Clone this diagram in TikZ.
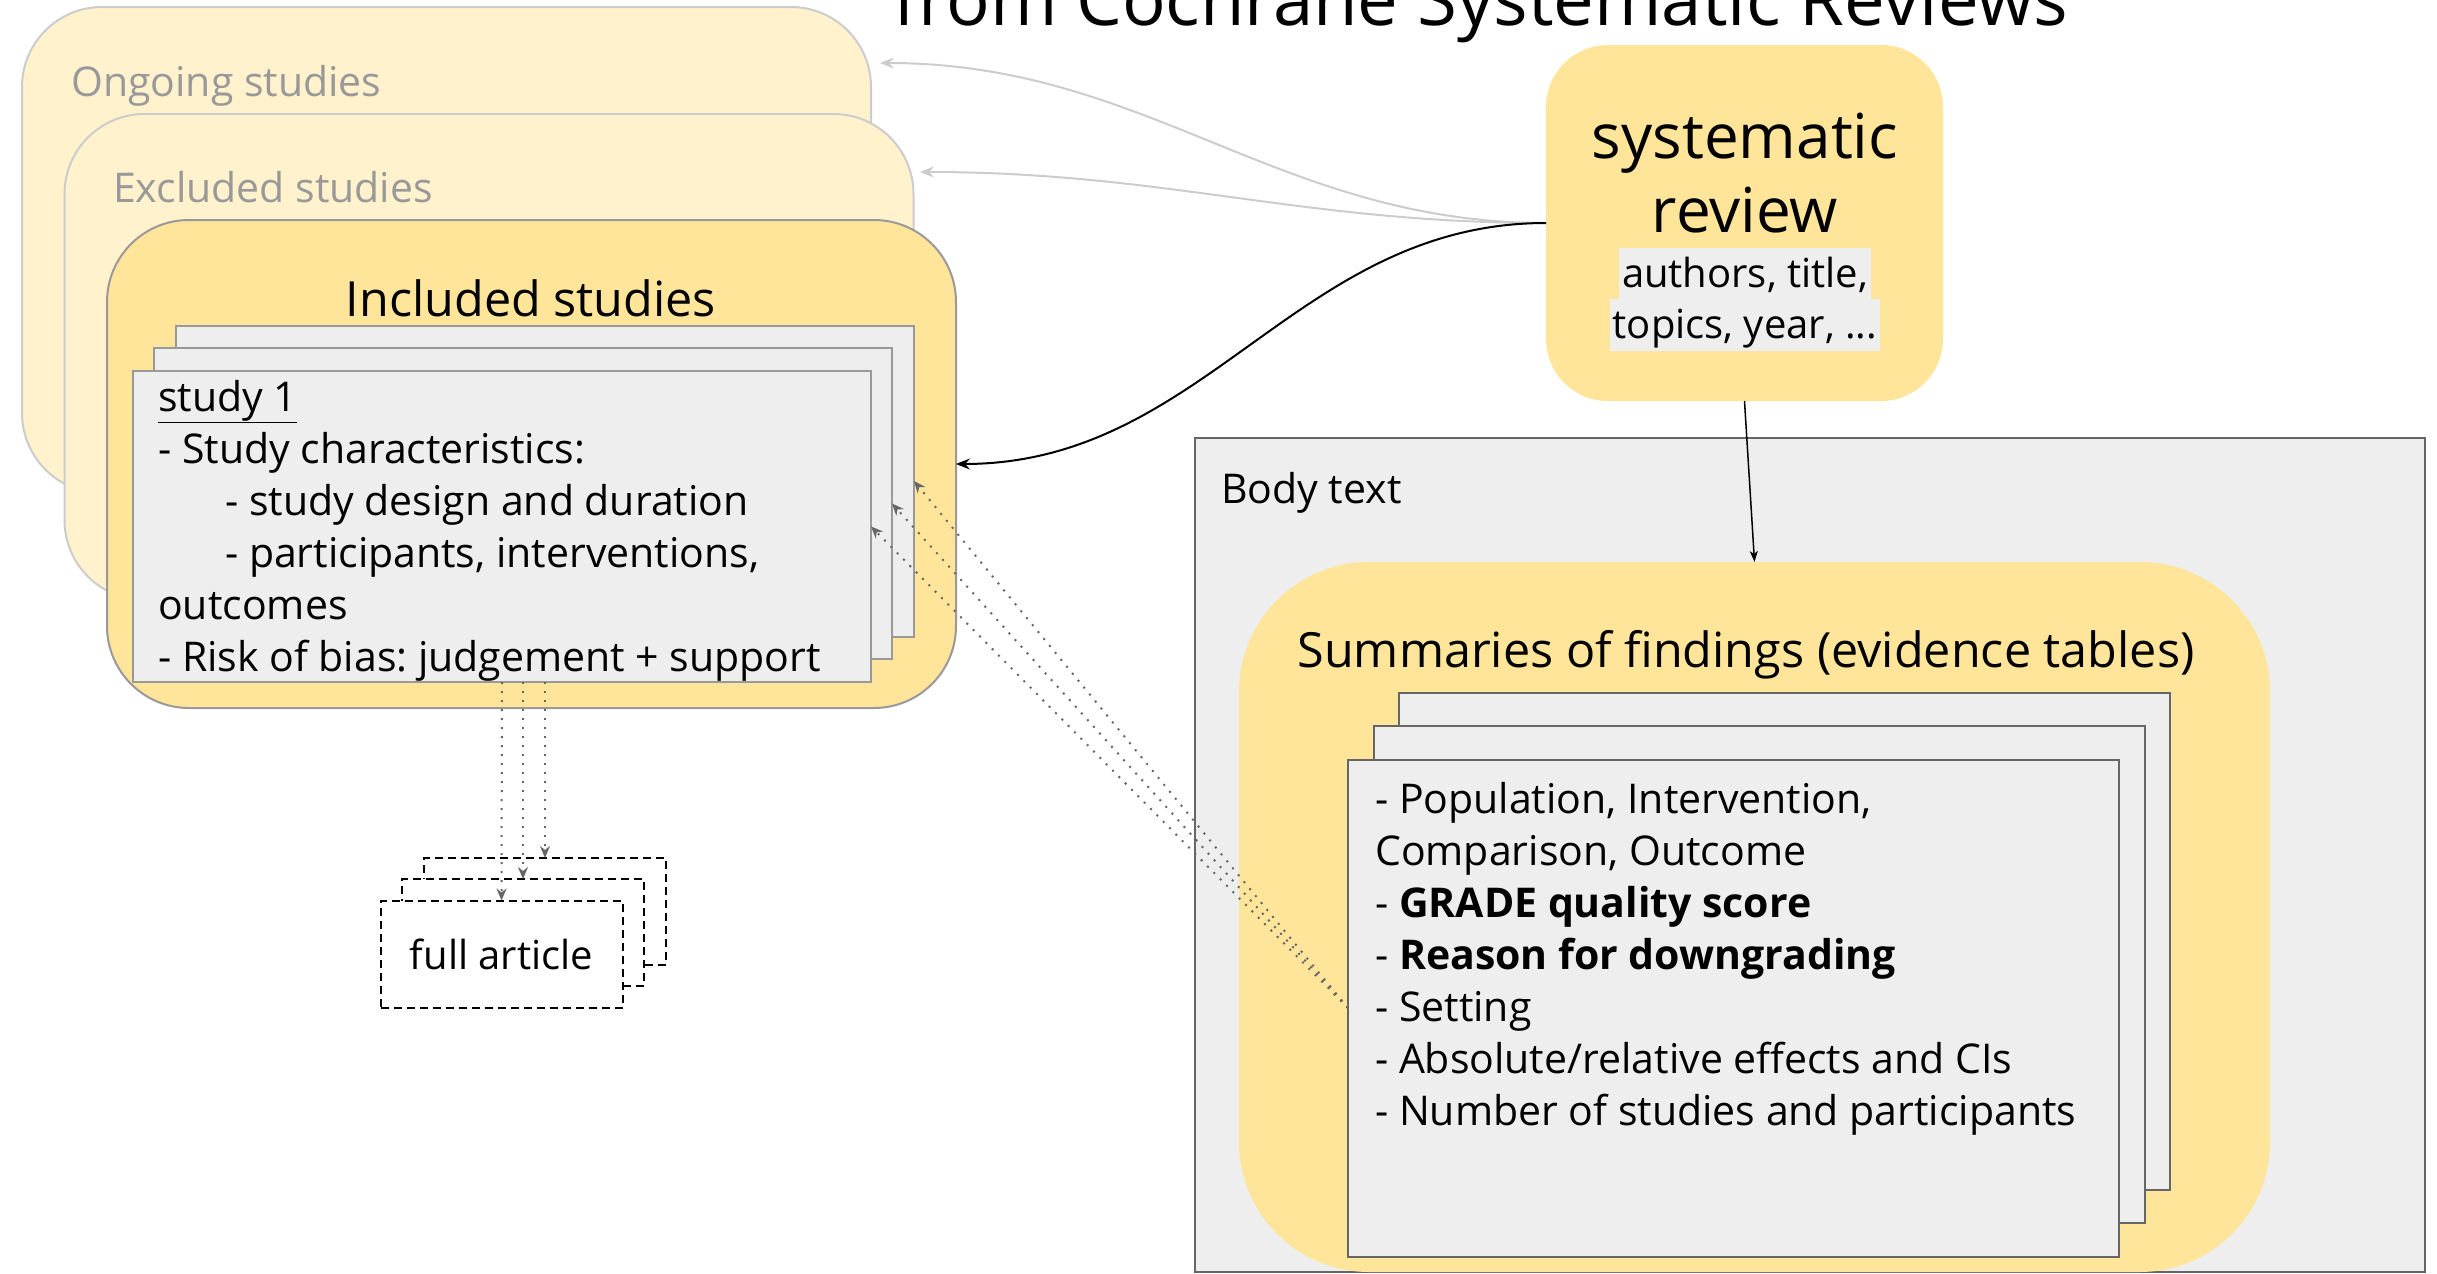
\documentclass[tikz,border=0pt]{standalone}
\usepackage{fontspec}
\setmainfont{Open Sans}
\usetikzlibrary{arrows.meta,calc}
\definecolor{ylight}{HTML}{FFF2CC}
\definecolor{ydark}{HTML}{FFE599}
\definecolor{cardgray}{HTML}{EEEEEE}
\definecolor{lgray}{HTML}{CCCCCC}
\definecolor{mgray}{HTML}{999999}
\definecolor{dgray}{HTML}{666666}
\newcommand\setfs[2]{\fontsize{#1}{#2}\selectfont}
\frenchspacing
\begin{document}
\begin{tikzpicture}[x=1pt,y=-1pt,
  box/.style={inner sep=0pt, outer sep=0pt},
  stackbox/.style={box, draw=lgray, fill=ylight, line width=2pt, rounded corners=80pt, minimum width=849pt, minimum height=486pt},
  inclbox/.style={box, draw=mgray, fill=ydark, line width=2pt, rounded corners=82pt, minimum width=849pt, minimum height=488pt},
  studycard/.style={box, draw=mgray, fill=cardgray, line width=2pt, minimum width=738pt, minimum height=311pt},
  sofcard/.style={box, draw=dgray, fill=cardgray, line width=2pt, minimum width=771pt, minimum height=497pt},
  artcard/.style={box, draw=black, fill=white, line width=2pt, dash pattern=on 8pt off 5pt, minimum width=242pt, minimum height=107pt},
  bodyline/.style={anchor=base west, inner sep=0pt, font=\setfs{41}{52}},
  graylabel/.style={anchor=base west, inner sep=0pt, text=mgray, font=\setfs{41}{50}},
  heading/.style={anchor=base, inner sep=0pt, font=\setfs{48.5}{56}},
  lightlink/.style={draw=lgray, line width=2pt, -{Stealth[length=14pt,width=11pt,inset=5pt]}},
  darklink/.style={draw=black, line width=2pt, -{Stealth[length=14pt,width=11pt,inset=5pt]}},
  smalllink/.style={draw=black, line width=1.5pt, -{Stealth[length=11pt,width=8pt,inset=3pt]}},
  dotlink/.style={draw=dgray, line width=2pt, dash pattern=on 2pt off 7pt, -{Stealth[length=12pt,width=10pt,inset=4pt]}},
]
\useasboundingbox (0,0) rectangle (2437,1274);
\clip (0,0) rectangle (2437,1274);

% title (cut by the top edge)
\node[anchor=base, inner sep=0pt, font=\setfs{72.5}{80}] (title) at (1481,25) {from Cochrane Systematic Reviews};

% study stacks
\node[stackbox] (ongoing) at (446.5,250) {};
\node[graylabel] (ongoinglbl) at (71,96) {Ongoing studies};
\node[stackbox] (excluded) at (489,357) {};
\node[graylabel] (excludedlbl) at (113,202) {Excluded studies};
\node[inclbox] (incl) at (531.5,464) {};
\node[heading] (incllbl) at (531,316) {Included studies};

\node[studycard] (sback) at (545,481) {};
\node[studycard] (smid) at (523,503.5) {};
\node[studycard] (sfront) at (502,526.5) {};
\node[bodyline] (st1) at (158,411) {\underline{study 1}};
\node[bodyline] (st2) at (158,463) {- Study characteristics:};
\node[bodyline] (st3) at (225,515) {- study design and duration};
\node[bodyline] (st4) at (225,567) {- participants, interventions,};
\node[bodyline] (st5) at (158,619) {outcomes};
\node[bodyline] (st6) at (158,671) {- Risk of bias: judgement + support};

% full article stack
\node[artcard] (art3) at (545,911.5) {};
\node[artcard] (art2) at (523,932.5) {};
\node[artcard, font=\setfs{40}{48}] (art1) at (501.5,954) {full article};

% systematic review
\node[box, fill=ydark, rounded corners=62pt, minimum width=397pt, minimum height=356pt] (sr) at (1744.5,223) {};
\node[anchor=base, inner sep=0pt, font=\setfs{62}{70}] (srt1) at (1745,158) {systematic};
\node[anchor=base, inner sep=0pt, font=\setfs{62}{70}] (srt2) at (1745,232) {review};
\node[anchor=base, fill=cardgray, inner xsep=3pt, inner ysep=0pt, text height=39pt, text depth=12pt, font=\setfs{40}{52}] (srt3) at (1745,287) {authors, title,};
\node[anchor=base, fill=cardgray, inner xsep=3pt, inner ysep=0pt, text height=39pt, text depth=13pt, font=\setfs{40}{52}] (srt4) at (1745,338) {topics, year, ...};

% body text
\node[box, draw=dgray, fill=cardgray, line width=2pt, minimum width=1230pt, minimum height=834pt] (body) at (1810,855) {};
\node[anchor=base west, inner sep=0pt, font=\setfs{41}{50}] (bodylbl) at (1221,503) {Body text};
\node[box, fill=ydark, rounded corners=130pt, minimum width=1031pt, minimum height=710pt] (sof) at (1754.5,917) {};
\node[heading] (soflbl) at (1746,667) {Summaries of findings (evidence tables)};

\node[sofcard] (fback) at (1784.5,941.5) {};
\node[sofcard] (fmid) at (1759.5,974.5) {};
\node[sofcard] (ffront) at (1733.5,1008) {};
\node[bodyline] (ft1) at (1375,813) {- Population, Intervention,};
\node[bodyline] (ft2) at (1375,865) {Comparison, Outcome};
\node[bodyline] (ft3) at (1375,917) {- \textbf{GRADE quality score}};
\node[bodyline] (ft4) at (1375,969) {- \textbf{Reason for downgrading}};
\node[bodyline] (ft5) at (1375,1021) {- Setting};
\node[bodyline] (ft6) at (1375,1073) {- Absolute/relative effects and CIs};
\node[bodyline] (ft7) at (1375,1125) {- Number of studies and participants};

% connectors
\coordinate (ongin) at (880,63);
\coordinate (excin) at (920,172);
\draw[lightlink] (sr.west) to[out=180,in=0] (ongin);
\draw[lightlink] (sr.west) to[out=180,in=0] (excin);
\draw[darklink] (sr.west) to[out=180,in=0] (incl.east);
\draw[smalllink] (sr.south) -- (sof.north);

\draw[dotlink] (ffront.west) -- (sback.east);
\draw[dotlink] (ffront.west) -- (smid.east);
\draw[dotlink] (ffront.west) -- (sfront.east);

\draw[dotlink] (sfront.south) -- (art1.north);
\draw[dotlink] (smid.south |- sfront.south) -- (art2.north);
\draw[dotlink] (sback.south |- sfront.south) -- (art3.north);
\end{tikzpicture}
\end{document}
